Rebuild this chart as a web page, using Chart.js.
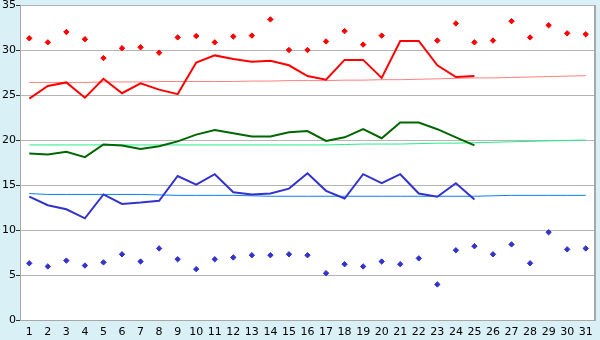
<!DOCTYPE html>
<html>
<head>
<meta charset="utf-8">
<script src="https://cdn.jsdelivr.net/npm/chart.js@4.4.0/dist/chart.umd.min.js"></script>
<style>
html,body{margin:0;padding:0;background:#d9f0f7;}
#wrap{width:600px;height:340px;position:relative;}
</style>
</head>
<body>
<div id="wrap"><canvas id="c" width="600" height="340"></canvas></div>
<script>
const days = Array.from({length:31},(_,i)=>String(i+1));
const yTicks = [0,5,10,15,20,25,30,35];

const maxTemp = [24.6,26.0,26.4,24.7,26.8,25.2,26.3,25.6,25.1,28.6,29.4,29.0,28.7,28.8,28.3,27.1,26.7,28.9,28.9,26.9,31.0,31.0,28.3,27.0,27.1,null,null,null,null,null,null];
const meanTemp = [18.5,18.4,18.7,18.1,19.5,19.4,19.0,19.3,19.85,20.6,21.1,20.75,20.4,20.4,20.85,21.0,19.9,20.3,21.2,20.2,21.95,21.95,21.2,20.3,19.4,null,null,null,null,null,null];
const minTemp = [13.7,12.75,12.3,11.3,13.95,12.9,13.05,13.25,16.0,15.05,16.2,14.2,13.95,14.05,14.6,16.3,14.35,13.5,16.2,15.2,16.2,14.05,13.7,15.2,13.4,null,null,null,null,null,null];

const recordHigh = [31.3,30.85,32.0,31.2,29.1,30.2,30.3,29.7,31.4,31.55,30.85,31.5,31.6,33.4,30.0,30.0,30.95,32.1,30.6,31.6,null,null,31.05,32.95,30.85,31.05,33.2,31.4,32.75,31.85,31.75];
const recordLow = [6.3,5.95,6.6,6.05,6.4,7.3,6.5,7.95,6.75,5.65,6.75,6.95,7.2,7.2,7.3,7.2,5.2,6.2,5.95,6.5,6.2,6.85,3.95,7.75,8.2,7.3,8.4,6.3,9.75,7.85,7.95];

const normalHigh = [26.4,26.4,26.4,26.4,26.45,26.45,26.45,26.5,26.5,26.5,26.5,26.5,26.55,26.55,26.6,26.6,26.6,26.65,26.65,26.7,26.7,26.75,26.8,26.85,26.9,26.9,26.95,27.0,27.05,27.1,27.15];
const normalMean = [19.45,19.45,19.45,19.45,19.45,19.45,19.45,19.45,19.45,19.45,19.45,19.45,19.45,19.45,19.45,19.45,19.45,19.5,19.55,19.55,19.55,19.6,19.65,19.65,19.7,19.75,19.8,19.85,19.9,19.95,20.0];
const normalMin = [14.05,13.95,13.95,13.95,13.95,13.95,13.95,13.9,13.85,13.85,13.85,13.85,13.8,13.75,13.75,13.75,13.75,13.75,13.75,13.75,13.75,13.75,13.75,13.75,13.75,13.8,13.85,13.85,13.85,13.85,13.85];

const lineDs = (data,color,width,order)=>({type:'line',data,borderColor:color,backgroundColor:color,borderWidth:width,pointRadius:0,tension:0,fill:false,spanGaps:false,order});
const ptDs = (data,color,order)=>({type:'line',data,showLine:false,borderColor:color,backgroundColor:color,pointStyle:'rectRot',pointRadius:2.7,pointBorderWidth:1,order});

const bgPlugin = {
  id:'bg',
  beforeDraw(chart){
    const {ctx, chartArea:a} = chart;
    ctx.save();
    ctx.fillStyle='#d9f0f7';
    ctx.fillRect(0,0,chart.width,chart.height);
    ctx.fillStyle='#ffffff';
    ctx.fillRect(a.left,a.top,a.right-a.left,a.bottom-a.top);
    ctx.restore();
  },
  afterDraw(chart){
    const {ctx, chartArea:a} = chart;
    ctx.save();
    ctx.strokeStyle='#a8a8a8';
    ctx.lineWidth=2;
    ctx.beginPath();
    ctx.moveTo(a.right,a.top);
    ctx.lineTo(a.right,a.bottom);
    ctx.stroke();
    ctx.restore();
  }
};

new Chart(document.getElementById('c'),{
  data:{
    labels:days,
    datasets:[
      lineDs(normalHigh,'#ff8080',1,10),
      lineDs(normalMean,'#22ee88',1,10),
      lineDs(normalMin,'#0a7ff0',1,10),
      ptDs(recordHigh,'#ff0000',5),
      ptDs(recordLow,'#3333cc',5),
      lineDs(maxTemp,'#ff0000',2,1),
      lineDs(meanTemp,'#006600',2,1),
      lineDs(minTemp,'#3333cc',2,1)
    ]
  },
  options:{
    responsive:false,
    animation:false,
    devicePixelRatio:1,
    layout:{padding:{left:0,top:5,right:4,bottom:0}},
    plugins:{legend:{display:false},tooltip:{enabled:false}},
    scales:{
      x:{
        type:'category',
        offset:true,
        grid:{display:false,drawOnChartArea:false,drawTicks:true,tickLength:5,tickColor:'#333333',offset:false},
        border:{display:true,color:'#a8a8a8',width:1},
        ticks:{color:'#000000',font:{family:'DejaVu Sans',size:11},padding:1,maxRotation:0,autoSkip:false},
        afterFit(s){s.height=20;s.paddingLeft=0;s.paddingRight=0;}
      },
      y:{
        min:0,max:35,
        afterBuildTicks(s){s.ticks=yTicks.map(v=>({value:v}));},
        grid:{color:'#b4b4b4',lineWidth:1,drawTicks:true,tickLength:4,tickColor:'#333333'},
        border:{display:true,color:'#a8a8a8',width:1},
        ticks:{color:'#000000',font:{family:'DejaVu Sans',size:11},padding:0},
        afterFit(s){s.width=20;s.paddingTop=0;s.paddingBottom=0;}
      }
    }
  },
  plugins:[bgPlugin]
});
</script>
</body>
</html>
